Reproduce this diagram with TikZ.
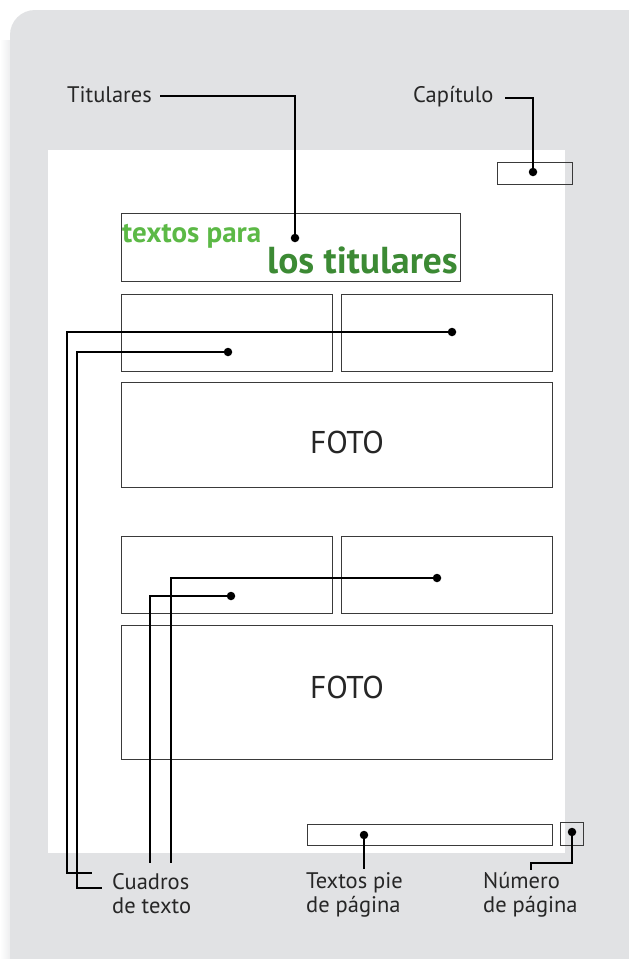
\documentclass[tikz,border=0pt]{standalone}
\usepackage{fontspec}
\setmainfont{PT Sans}

\definecolor{fondo}{HTML}{E1E2E4}
\definecolor{verdeclaro}{HTML}{5CB946}
\definecolor{verdeoscuro}{HTML}{3C8A34}
\definecolor{trazo}{HTML}{3A3A3A}

\begin{document}
\begin{tikzpicture}[x=1pt,y=-1pt,
  caja/.style={draw=trazo,line width=0.9pt,inner sep=0pt},
  punto/.style={circle,fill=black,inner sep=0pt,minimum size=8.5pt},
  guia/.style={line width=1.2pt},
  rotulo/.style={font=\fontsize{22.5}{24}\selectfont,text=black!85,inner sep=0pt,align=left}]
\useasboundingbox (0,0) rectangle (629,959);

% fondo y pagina
\fill[white] (0,0) rectangle (629,959);
\shade[left color=white,right color=fondo!70] (0,40) rectangle (12,959);
\fill[fondo,rounded corners=25pt] (10,10) rectangle (660,990);
\fill[white] (48,150) rectangle (565,853);

% cajas de la pagina
\node[caja,minimum width=75pt,minimum height=22pt] (capitulo) at (534.5,173) {};
\node[caja,minimum width=339pt,minimum height=68pt] (titular) at (290.5,247) {};
\node[caja,minimum width=211pt,minimum height=77pt] (textoA) at (226.5,332.5) {};
\node[caja,minimum width=211pt,minimum height=77pt] (textoB) at (446.5,332.5) {};
\node[caja,minimum width=431pt,minimum height=105pt] (foto1) at (336.5,434.5) {};
\node[caja,minimum width=211pt,minimum height=77pt] (textoC) at (226.5,574.5) {};
\node[caja,minimum width=211pt,minimum height=77pt] (textoD) at (446.5,574.5) {};
\node[caja,minimum width=431pt,minimum height=134pt] (foto2) at (336.5,692) {};
\node[caja,minimum width=245pt,minimum height=21pt] (pie) at (429.5,834.5) {};
\node[caja,minimum width=23pt,minimum height=23pt] (numero) at (571.5,833.5) {};

% textos dentro
\node[anchor=base west,inner sep=0pt,text=verdeclaro,font=\fontsize{29}{29}\selectfont\bfseries] (tit1) at (122,242) {textos para};
\node[anchor=base east,inner sep=0pt,text=verdeoscuro,font=\fontsize{37.5}{37.5}\selectfont\bfseries] (tit2) at (458,273) {los titulares};
\node[font=\fontsize{31.5}{31.5}\selectfont,text=black!85] (foto1txt) at (347,442) {FOTO};
\node[font=\fontsize{31.5}{31.5}\selectfont,text=black!85] (foto2txt) at (347,687) {FOTO};

% puntos
\node[punto] (dtit) at (295,238) {};
\node[punto] (dcap) at (533,172) {};
\node[punto] (dA) at (452,332) {};
\node[punto] (dB) at (228,352) {};
\node[punto] (dC) at (437,578) {};
\node[punto] (dD) at (231,596) {};
\node[punto] (dpie) at (364,835) {};
\node[punto] (dnum) at (572,832) {};

% rotulos
\node[rotulo,anchor=base west] (lTit) at (67,102) {Titulares};
\node[rotulo,anchor=base west] (lCap) at (413,102) {Capítulo};
\node[rotulo,anchor=base west] (lCua) at (112,913) {Cuadros\\de texto};
\node[rotulo,anchor=base west] (lPie) at (306,912) {Textos pie\\de página};
\node[rotulo,anchor=base west] (lNum) at (483,912) {Número\\de página};

\coordinate (eTit) at (160,96);
\coordinate (eCap) at (505,98);
\coordinate (eA) at (92,873);
\coordinate (eB) at (102,888);
\coordinate (eC) at (171,863);
\coordinate (eD) at (150,863);
\coordinate (ePie) at (364,869);
\coordinate (eNum) at (531,870);

% lineas guia
\draw[guia] (eTit) -| (dtit);
\draw[guia] (eCap) -| (dcap);
\draw[guia] (dA) -- (67,332) |- (eA);
\draw[guia] (dB) -- (77,352) |- (eB);
\draw[guia] (dC) -| (eC);
\draw[guia] (dD) -| (eD);
\draw[guia] (dpie) -- (ePie);
\draw[guia] (dnum) |- (531,863) -- (eNum);
\end{tikzpicture}
\end{document}
